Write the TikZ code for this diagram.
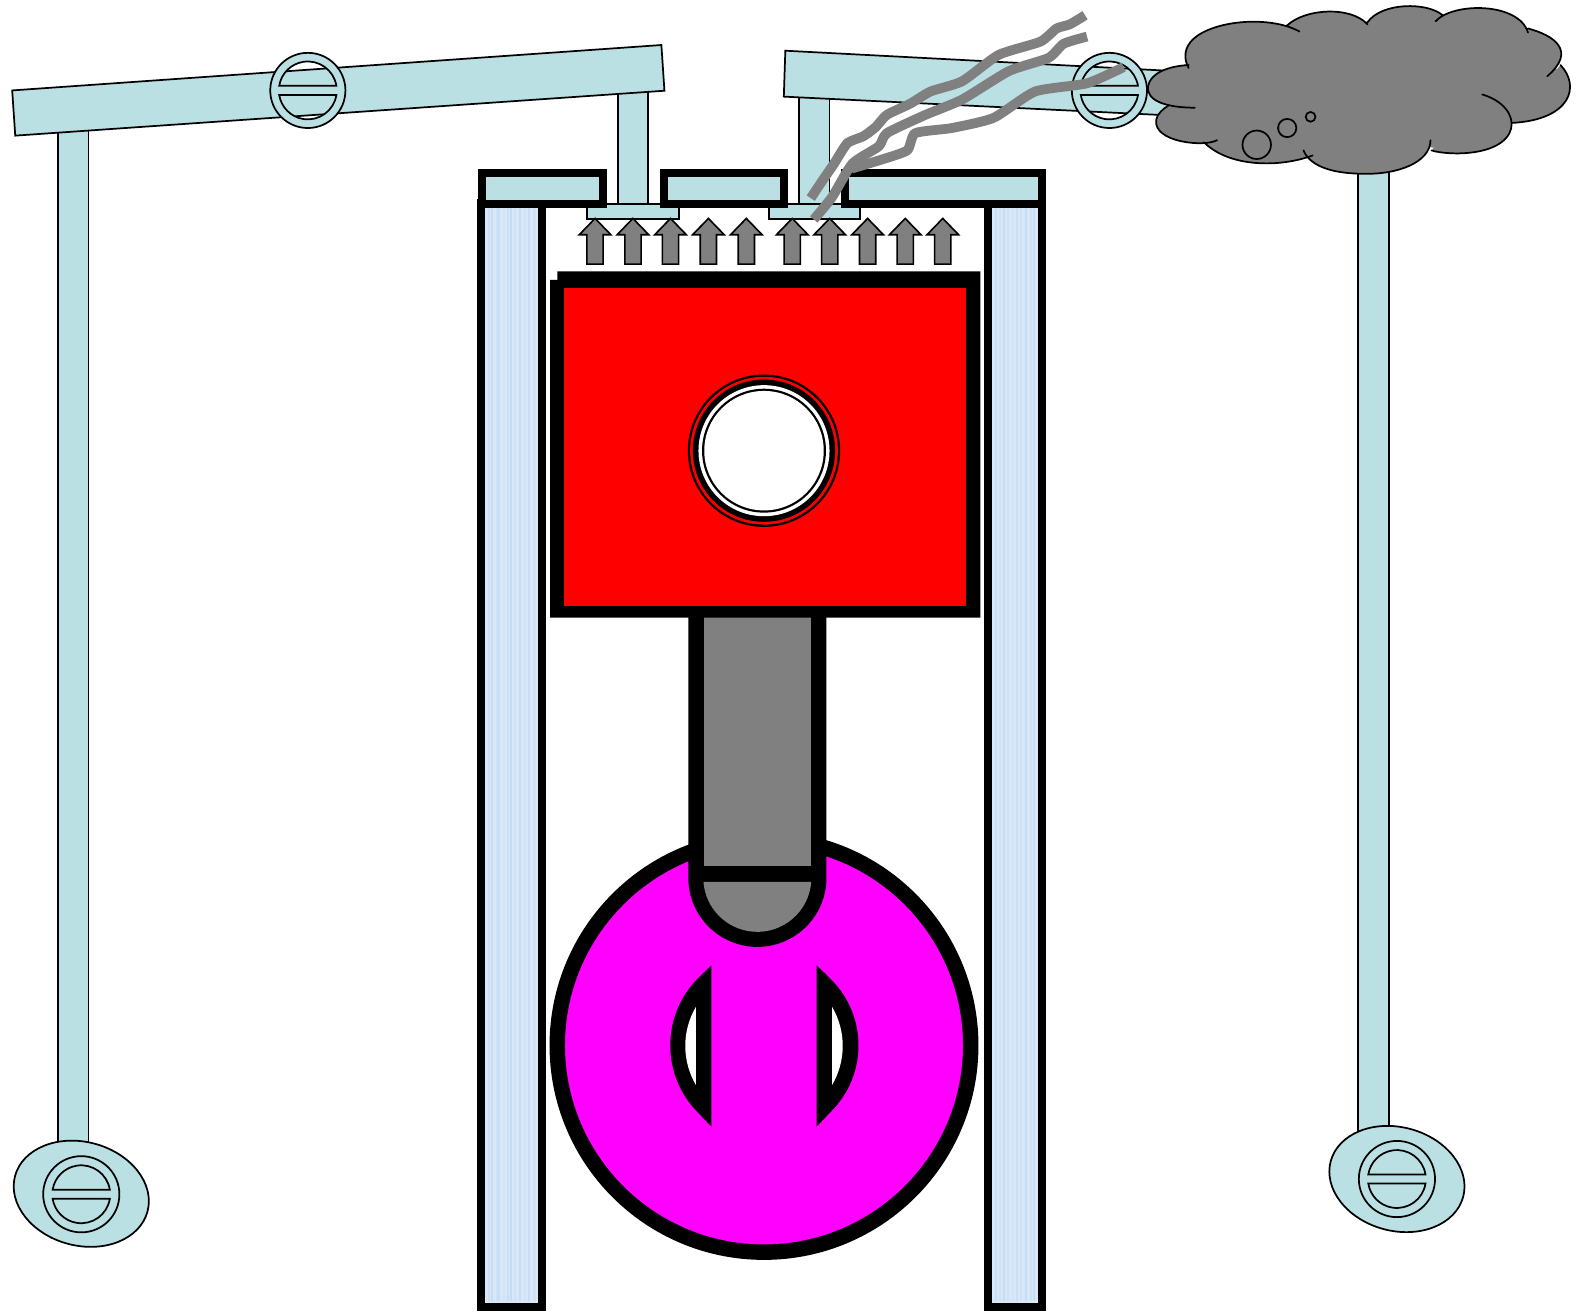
\documentclass[tikz,border=0pt]{standalone}
\definecolor{pipe}{HTML}{BAE0E3}
\definecolor{wallblue}{HTML}{D8E8F9}
\definecolor{streak}{HTML}{BCD5EE}
\definecolor{steelgray}{HTML}{808080}
\definecolor{crankpink}{HTML}{FF00FF}
\tikzset{
  thinpart/.style={draw=black,line width=0.85pt,fill=pipe},
  heavy/.style={draw=black,line width=3.9pt,miter limit=10},
  wallpart/.style={heavy,fill=wallblue},
  platepart/.style={heavy,fill=pipe},
  fumes/.style={draw=steelgray,line width=4.8pt,line join=round},
  cloudline/.style={draw=black,line width=0.85pt,line cap=round},
  gasarrow/.style={draw=black,line width=0.8pt,fill=steelgray,line join=miter}
}
\newcommand\ValveMark[3]{%
  \begin{scope}[shift={(#1,#2)}]
    \path[thinpart,even odd rule] (0,0) circle[radius=#3]
      (28.1,-4.5) arc[start angle=-9.1,end angle=-170.9,radius=28.5] -- cycle
      (28.1,4.5) arc[start angle=9.1,end angle=170.9,radius=28.5] -- cycle;
  \end{scope}}
\newcommand\GasArrow[1]{%
  \begin{scope}[shift={(#1,0)}]
    \path[gasarrow] (0,215) -- (15.5,231) -- (8,231) -- (8,260) -- (-8,260) -- (-8,231) -- (-15.5,231) -- cycle;
  \end{scope}}
\newcommand\CloudParts{%
  (1279,31) .. controls (1250,15) and (1195,20) .. (1175,38) .. controls (1165,47) and (1165,58) .. (1170,67)
  (1267,25) .. controls (1285,8) and (1330,6) .. (1346,24)
  (1346,22) .. controls (1360,2) and (1405,2) .. (1420,15)
  (1413,21) .. controls (1430,2) and (1495,2) .. (1504,32)
  (1504,28) .. controls (1530,35) and (1552,50) .. (1523,75)
  (1536,64) .. controls (1556,85) and (1546,118) .. (1488,121)
  (1459,93) .. controls (1500,105) and (1502,150) .. (1435,151) .. controls (1425,151) and (1415,150) .. (1409,148)
  (1408,138) .. controls (1408,160) and (1375,172) .. (1342,171) .. controls (1315,171) and (1290,165) .. (1283,148)
  (1292,153) .. controls (1260,165) and (1210,165) .. (1185,140)
  (1198,138) .. controls (1185,145) and (1135,140) .. (1138,118) .. controls (1139,112) and (1145,107) .. (1150,104)
  (1176,106) .. controls (1150,106) and (1128,100) .. (1130,85) .. controls (1132,72) and (1150,65) .. (1170,64)}
\begin{document}
\begin{tikzpicture}[x=0.5pt,y=-0.5pt]
\useasboundingbox (0,0) rectangle (1568,1292.4);
% cylinder walls
\path[wallpart] (473.6,200) rectangle (533.8,1286.3);
\path[wallpart] (972.9,200) rectangle (1025.4,1286.3);
\foreach \x/\o in {481/.4,484/.6,489/.3,491/.5,496/.2,500/.45,503/.6,507/.3,512/.55,517/.25,521/.5,526/.35,980/.5,984/.25,988/.55,992/.3,997/.2,1001/.45,1005/.3,1010/.55,1015/.35,1018/.5}{
  \draw[streak,line width=1.1pt,opacity=\o] (\x,205) -- (\x,1281);
}
% left linkage
\path[thinpart] (57,125) rectangle (87,1130);
\path[thinpart] (608,85) rectangle (638,202);
\path[thinpart] (578,200.8) rectangle (668,215.5);
\path[thinpart] (12,89) -- (651,44.3) -- (654,89.3) -- (15,133.5) -- cycle;
\ValveMark{303}{89}{37}
\path[thinpart,rotate around={-15:(80,1175)}] (80,1175) ellipse[x radius=67.5,y radius=51];
\ValveMark{80}{1175.5}{37.5}
% right linkage
\path[thinpart] (786.5,90) rectangle (816.5,202);
\path[thinpart] (757,200.8) rectangle (846.5,215.5);
\path[thinpart] (773,49.9) -- (1170,70.7) -- (1170,114.5) -- (771.5,95.1) -- cycle;
\ValveMark{1092}{89}{37}
\path[thinpart] (1337,160) rectangle (1367,1118);
\path[thinpart,rotate around={-15:(1375,1160.5)}] (1375,1160.5) ellipse[x radius=67.5,y radius=51];
\ValveMark{1375}{1160.5}{37.5}
% cylinder head plates
\path[platepart] (474.4,170.6) rectangle (593.2,200.6);
\path[platepart] (653.2,170.6) rectangle (771.8,200.6);
\path[platepart] (832,170.6) rectangle (1025.4,200.6);
% gas arrows
\foreach \x in {585.7,623,660,697.3,734.6,779.8,816.7,854,891,928}{\GasArrow{\x}}
% crank
\path[draw=black,line width=7.6pt,fill=crankpink] (752,1029) circle[radius=203.5];
\path[fill=black] (700.3,950) -- (686,964) .. controls (651,1000) and (651,1058) .. (686,1094) -- (700.3,1109) -- cycle;
\path[fill=white] (685,991) .. controls (671,1015) and (671,1044) .. (685,1068) -- cycle;
\path[fill=black] (803.7,950) -- (818,964) .. controls (854,1000) and (854,1058) .. (818,1094) -- (803.7,1109) -- cycle;
\path[fill=white] (819,991) .. controls (833,1015) and (833,1044) .. (819,1068) -- cycle;
% connecting rod
\path[fill=black] (677.5,590) -- (813.5,590) -- (813.5,864) arc[start angle=0,end angle=180,radius=68] -- cycle;
\path[fill=steelgray] (692.5,590) rectangle (798.5,852);
\path[fill=steelgray] (798.5,868) arc[start angle=4.3,end angle=175.7,radius=53.2] -- cycle;
% piston
\path[fill=black] (548.5,267) -- (965,267) -- (965,608) -- (541.5,608) -- (541.5,275.5) -- (548.5,275.5) -- cycle;
\path[fill=red] (555.5,283) rectangle (951,596);
\path[fill=black] (752,443.6) circle[radius=75];
\path[fill=red] (752,443.6) circle[radius=72.7];
\path[fill=black] (752,443.6) circle[radius=70];
\path[fill=white] (752,443.6) circle[radius=64.5];
\path[fill=black] (752,443.6) circle[radius=61];
\path[fill=white] (752,443.6) circle[radius=58.8];
% exhaust cloud
\fill[steelgray] \CloudParts;
\fill[steelgray] (1175,60) -- (1267,24) -- (1346,21) -- (1420,14.5) -- (1426,17) -- (1504,29) -- (1528,62) -- (1535,72) -- (1530,95) -- (1488,120.5) -- (1435,148) -- (1408,145) -- (1342,168) -- (1285,152) -- (1250,158) -- (1190,142) -- (1145,122) -- (1152,105) -- (1135,90) -- cycle;
\draw[cloudline] \CloudParts;
\draw[cloudline] (1237,142.5) circle[radius=14];
\draw[cloudline] (1267,126) circle[radius=9];
\draw[cloudline] (1290,115) circle[radius=4.8];
% smoke
\draw[fumes] plot[smooth,tension=0.35] coordinates {(798,195) (808,180) (821,161) (834,141) (850,134) (862,125) (873,113) (896,102) (916,90) (947,80) (983,54) (1024,41) (1040,28) (1053,24) (1068,15)};
\draw[fumes] plot[smooth,tension=0.35] coordinates {(801,216) (819,194) (839,161) (865,144) (873,131) (911,113) (947,98) (993,70) (1032,57) (1047,43) (1070,36)};
\draw[fumes] plot[smooth,tension=0.35] coordinates {(838,166) (868,157) (893,148) (901,131) (937,126) (978,116) (1019,90) (1070,82) (1106,66)};
\end{tikzpicture}
\end{document}
